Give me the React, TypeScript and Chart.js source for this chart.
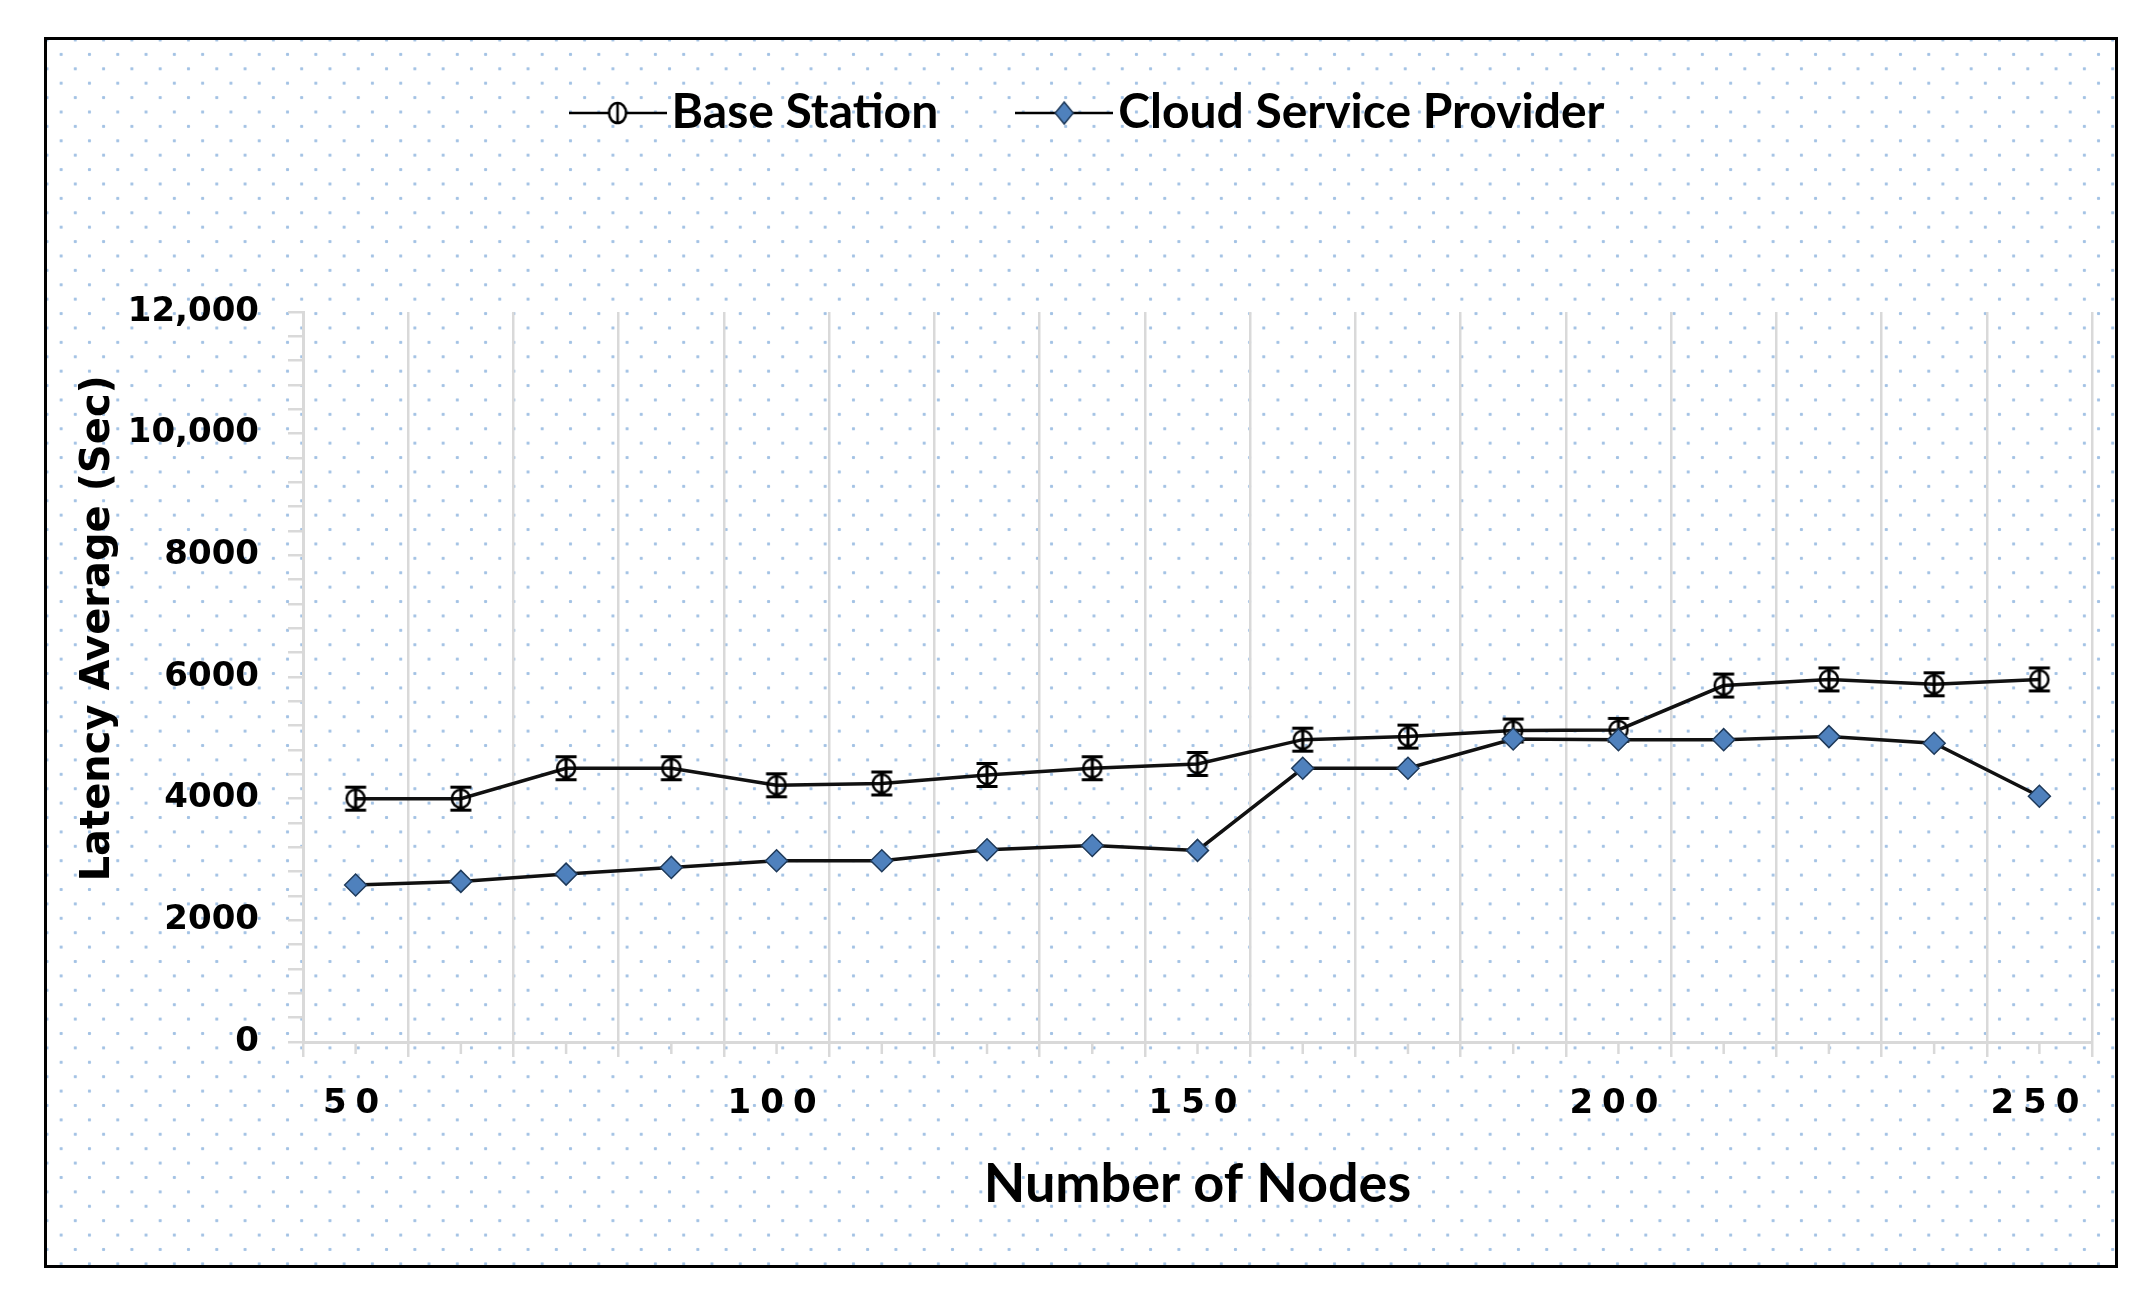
import React, { useEffect, useRef } from 'react';
import { Chart, registerables } from 'chart.js';

Chart.register(...registerables);

// ---- Data ----
const nodes = [50, 62.5, 75, 87.5, 100, 112.5, 125, 137.5, 150, 162.5, 175, 187.5, 200, 212.5, 225, 237.5, 250];
const xTickLabels = [50, 100, 150, 200, 250];
const baseStation = [4000, 4000, 4500, 4500, 4220, 4250, 4390, 4500, 4570, 4970, 5020, 5120, 5130, 5860, 5960, 5880, 5960];
const cloudServiceProvider = [2580, 2640, 2760, 2870, 2980, 2980, 3160, 3230, 3150, 4500, 4500, 4980, 4970, 4970, 5020, 4910, 4040];
const seriesNames = ['Base Station', 'Cloud Service Provider'];
const yMin = 0;
const yMax = 12000;
const yMinorStep = 400;
const yLabelStep = 2000;

const GRID = '#d9d9d9';
const BLUE = '#4f81bd';

function makeBaseMarker(): HTMLCanvasElement {
  const c = document.createElement('canvas');
  c.width = 26;
  c.height = 28;
  const g = c.getContext('2d')!;
  g.strokeStyle = '#000';
  g.lineWidth = 2.5;
  g.beginPath();
  g.arc(13, 14, 9, 0, Math.PI * 2);
  g.stroke();
  g.lineWidth = 3;
  g.beginPath();
  g.moveTo(2.5, 2.5);
  g.lineTo(23.5, 2.5);
  g.moveTo(2.5, 25.5);
  g.lineTo(23.5, 25.5);
  g.moveTo(13, 2.5);
  g.lineTo(13, 25.5);
  g.stroke();
  return c;
}

function makeLegendIcon(kind: 'base' | 'csp'): HTMLCanvasElement {
  const c = document.createElement('canvas');
  c.width = 98;
  c.height = 26;
  const g = c.getContext('2d')!;
  g.strokeStyle = '#000';
  g.lineWidth = 2.5;
  g.beginPath();
  g.moveTo(0, 13);
  g.lineTo(98, 13);
  g.stroke();
  if (kind === 'base') {
    g.fillStyle = '#fff';
    g.lineWidth = 2.5;
    g.beginPath();
    g.ellipse(49, 13, 8.5, 10, 0, 0, Math.PI * 2);
    g.fill();
    g.stroke();
    g.beginPath();
    g.moveTo(49, 4);
    g.lineTo(49, 22);
    g.stroke();
  } else {
    g.fillStyle = BLUE;
    g.strokeStyle = '#1f3a5a';
    g.lineWidth = 1.5;
    g.beginPath();
    g.moveTo(49, 2);
    g.lineTo(58, 13);
    g.lineTo(49, 24);
    g.lineTo(40, 13);
    g.closePath();
    g.fill();
    g.stroke();
  }
  return c;
}

const minorTicksPlugin = {
  id: 'minorTicks',
  afterDatasetsDraw(chart: any) {
    (chart.ctx as any).letterSpacing = '9px';
  },
  afterDraw(chart: any) {
    const ctx = chart.ctx;
    (ctx as any).letterSpacing = '0px';
    const xs = chart.scales.x;
    ctx.save();
    ctx.strokeStyle = GRID;
    ctx.lineWidth = 2.5;
    nodes.forEach((_, i) => {
      const px = xs.getPixelForValue(i);
      ctx.beginPath();
      ctx.moveTo(px, xs.top);
      ctx.lineTo(px, xs.top + 12);
      ctx.stroke();
    });
    ctx.restore();
  },
};

export default function App() {
  const ref = useRef<HTMLCanvasElement>(null);

  useEffect(() => {
    if (!ref.current) return;
    const baseMarker = makeBaseMarker();
    const legendIcons = [makeLegendIcon('base'), makeLegendIcon('csp')];
    const tickFont = { family: '"DejaVu Sans", Verdana, sans-serif', size: 34, weight: 'bold' as const };

    const chart = new Chart(ref.current, {
      type: 'line',
      data: {
        labels: nodes.map(String),
        datasets: [
          {
            label: seriesNames[0],
            data: baseStation,
            borderColor: '#111',
            borderWidth: 3.5,
            pointStyle: baseMarker as any,
            pointRadius: 12,
            order: 1,
            tension: 0,
          },
          {
            label: seriesNames[1],
            data: cloudServiceProvider,
            borderColor: '#111',
            borderWidth: 3.5,
            pointStyle: 'rectRot',
            pointRadius: 11,
            pointBackgroundColor: BLUE,
            pointBorderColor: '#1f3a5a',
            pointBorderWidth: 1.5,
            order: 0,
            tension: 0,
          },
        ],
      },
      options: {
        responsive: false,
        animation: false,
        layout: { padding: { left: 100, right: 62, top: -7, bottom: 82.4 } },
        plugins: {
          tooltip: { enabled: false },
          title: {
            display: true,
            text: '',
            weight: 500,
            padding: { top: 0, bottom: 150.6 },
            font: { size: 12 },
          } as any,
          legend: {
            display: true,
            position: 'top',
            labels: {
              usePointStyle: true,
              pointStyleWidth: 60,
              padding: 96,
              color: '#000',
              font: { family: 'Lato, "Open Sans", sans-serif', size: 48, weight: 'bold' },
              sort: (a: any, b: any) => a.datasetIndex - b.datasetIndex,
              generateLabels: (ch: any) => {
                const items = (Chart.defaults.plugins.legend.labels as any).generateLabels(ch);
                items.forEach((it: any) => {
                  it.pointStyle = legendIcons[it.datasetIndex];
                });
                return items;
              },
            },
          },
        },
        scales: {
          x: {
            type: 'category',
            offset: true,
            grid: { offset: true, color: GRID, lineWidth: 2.5, tickLength: 15, drawOnChartArea: true },
            border: { display: true, color: GRID, width: 3 },
            ticks: {
              autoSkip: false,
              maxRotation: 0,
              padding: 27,
              color: '#000',
              font: tickFont,
              z: 1,
              callback: (_v: any, i: number) => (xTickLabels.includes(nodes[i]) ? String(nodes[i]) : ''),
            },
            title: {
              display: true,
              text: 'Number of Nodes',
              color: '#000',
              font: { family: 'Lato, "Open Sans", sans-serif', size: 54, weight: 'bold' },
              padding: { top: 0, bottom: 3 },
            },
          },
          y: {
            min: yMin,
            max: yMax,
            grid: { drawOnChartArea: false, color: GRID, lineWidth: 2.5, tickLength: 15 },
            border: { display: true, color: GRID, width: 3 },
            ticks: {
              stepSize: yMinorStep,
              autoSkip: false,
              padding: 29,
              crossAlign: 'near',
              color: '#000',
              font: tickFont,
              callback: (v: any) => {
                const n = Number(v);
                if (n % yLabelStep !== 0) return '';
                return n >= 10000 ? n.toLocaleString('en-US') : String(n);
              },
            },
            title: {
              display: true,
              text: '       Latency Average (Sec)',
              color: '#000',
              font: { family: '"DejaVu Sans", Verdana, sans-serif', size: 40, weight: 'bold' },
              padding: { top: -25, bottom: 0 },
            },
            afterFit: (s: any) => {
              s.width = 203;
            },
          },
        },
      },
      plugins: [minorTicksPlugin],
    });
    return () => chart.destroy();
  }, []);

  const dots = 'radial-gradient(circle, #a3c2e4 1.3px, rgba(255,255,255,0) 2px)';
  return (
    <div style={{ position: 'absolute', left: 0, top: 0, width: 2154, height: 1302, background: '#fff' }}>
      <div
        style={{
          position: 'absolute',
          left: 44,
          top: 37,
          width: 2074,
          height: 1231,
          boxSizing: 'border-box',
          border: '3px solid #000',
          backgroundColor: '#fff',
          backgroundImage: `${dots}, ${dots}`,
          backgroundSize: '28.3px 28.8px',
          backgroundPosition: '0px 0px, 14.15px 14.4px',
        }}
      />
      <canvas ref={ref} width={2154} height={1302} style={{ position: 'absolute', left: 0, top: 0 }} />
    </div>
  );
}
